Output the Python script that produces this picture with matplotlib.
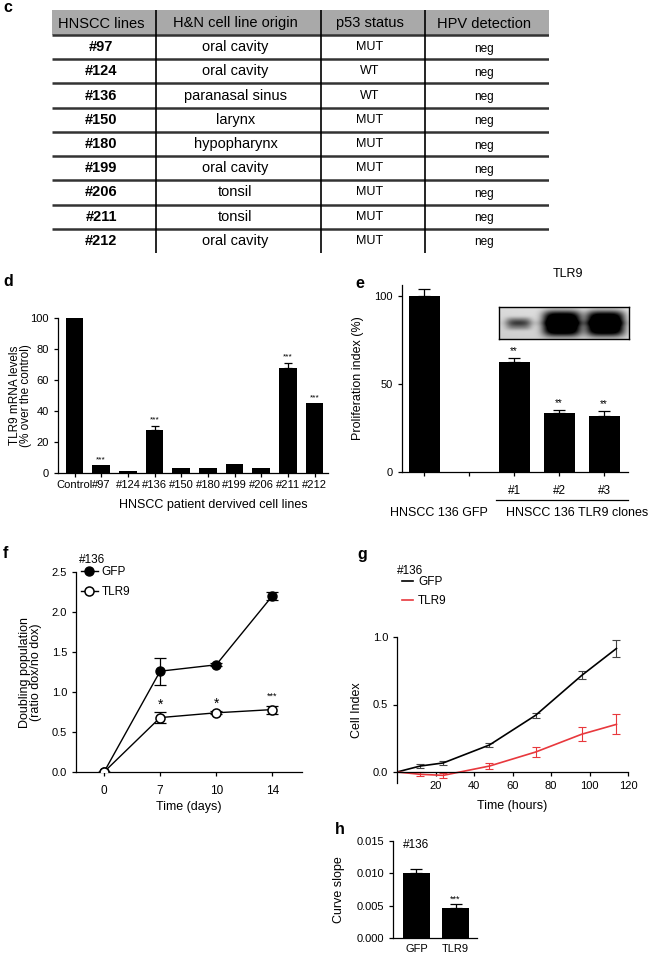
import numpy as np
import matplotlib.pyplot as plt
from matplotlib.patches import Rectangle
from matplotlib.transforms import blended_transform_factory

plt.rcParams['font.family'] = ['Liberation Sans', 'DejaVu Sans']
plt.rcParams['font.size'] = 8
plt.rcParams['axes.linewidth'] = 0.9
plt.rcParams['xtick.major.width'] = 0.9
plt.rcParams['ytick.major.width'] = 0.9
plt.rcParams['xtick.major.size'] = 3
plt.rcParams['ytick.major.size'] = 3
plt.rcParams['xtick.labelsize'] = 8
plt.rcParams['ytick.labelsize'] = 8

# ---- c: cell line table ----
table_header = ["HNSCC lines", "H&N cell line origin", "p53 status", "HPV detection"]
cell_lines = ["#97", "#124", "#136", "#150", "#180", "#199", "#206", "#211", "#212"]
origin = ["oral cavity", "oral cavity", "paranasal sinus", "larynx", "hypopharynx",
          "oral cavity", "tonsil", "tonsil", "oral cavity"]
p53_status = ["MUT", "WT", "WT", "MUT", "MUT", "MUT", "MUT", "MUT", "MUT"]
hpv = ["neg", "neg", "neg", "neg", "neg", "neg", "neg", "neg", "neg"]

# ---- d: TLR9 mRNA ----
d_labels = ["Control", "#97", "#124", "#136", "#150", "#180", "#199", "#206", "#211", "#212"]
d_values = [100, 5, 1, 28, 3, 3, 6, 3, 68, 45]
d_err = [0, 0, 0, 2.3, 0, 0, 0, 0, 3.2, 0]
d_stars = ["", "***", "", "***", "", "", "", "", "***", "***"]

# ---- e: proliferation index ----
e_labels = ["", "", "#1", "#2", "#3"]
e_values = [100, None, 62.5, 33.5, 31.5]
e_err = [3.5, None, 2.2, 1.7, 3.2]
e_stars = ["", "", "**", "**", "**"]
blot_intensity = [0.3, 1.0, 1.0]

# ---- f: doubling population ----
f_days = ["0", "7", "10", "14"]
f_gfp = [0, 1.26, 1.34, 2.2]
f_gfp_err = [0, 0.17, 0.02, 0.05]
f_tlr9 = [0, 0.68, 0.74, 0.78]
f_tlr9_err = [0, 0.07, 0.02, 0.05]
f_stars = ["", "*", "*", "***"]

# ---- g: cell index ----
g_hours = [0, 12, 24, 48, 72, 96, 114]
g_gfp = [0, 0.044, 0.067, 0.2, 0.42, 0.716, 0.915]
g_gfp_err = [0, 0.012, 0.012, 0.012, 0.02, 0.03, 0.065]
g_tlr9 = [0, -0.017, -0.025, 0.044, 0.148, 0.28, 0.353]
g_tlr9_err = [0, 0.015, 0.02, 0.025, 0.035, 0.053, 0.075]

# ---- h: curve slope ----
h_labels = ["GFP", "TLR9"]
h_values = [0.0101, 0.0047]
h_err = [0.0005, 0.0005]
h_stars = ["", "***"]

W, H = 658, 959
RED = '#e8383d'


def px_axes(fig, x0, y0, x1, y1):
    # axes from pixel box (top-left origin)
    return fig.add_axes([x0 / W, 1 - y1 / H, (x1 - x0) / W, (y1 - y0) / H])


def prism_style(ax):
    ax.spines['top'].set_visible(False)
    ax.spines['right'].set_visible(False)
    ax.tick_params(direction='out', length=3)


fig = plt.figure(figsize=(W / 100, H / 100), dpi=100)

# panel letters
for letter, (lx, ly) in {"c": (3, 7), "d": (3, 282), "e": (355, 283),
                         "f": (3, 553), "g": (357, 555), "h": (335, 830)}.items():
    fig.text(lx / W, 1 - ly / H, letter, fontsize=11.5, fontweight='bold', va='center', ha='left')

# ---------------- c: table ----------------
axt = px_axes(fig, 52, 10, 549, 253)
tw, th = 497, 243
axt.set_xlim(0, tw)
axt.set_ylim(th, 0)
axt.axis('off')
col_edges = [0, 104, 269, 373, 497]
header_h = 25
row_h = (th - header_h) / len(cell_lines)
axt.add_patch(Rectangle((0, 0), tw, header_h, color='#a9a9a9', lw=0))
for k in range(len(cell_lines)):
    yy = header_h + k * row_h
    axt.plot([0, tw], [yy, yy], color='#333333', lw=1.8, solid_capstyle='butt')
for xx in col_edges[1:-1]:
    axt.plot([xx, xx], [0, th], color='black', lw=1.2)
centers = [(col_edges[i] + col_edges[i + 1]) / 2 - 3 for i in range(4)]
for i, name in enumerate(table_header):
    axt.text(centers[i], header_h / 2 + 1, name, ha='center', va='center', fontsize=10.5)
for r in range(len(cell_lines)):
    yc = header_h + (r + 0.5) * row_h
    axt.text(centers[0], yc, cell_lines[r], ha='center', va='center', fontsize=10.5, fontweight='bold')
    axt.text(centers[1], yc, origin[r], ha='center', va='center', fontsize=10.5)
    axt.text(centers[2], yc, p53_status[r], ha='center', va='center', fontsize=9)
    axt.text(centers[3], yc + 1.5, hpv[r], ha='center', va='center', fontsize=8.5)

# ---------------- d ----------------
axd = px_axes(fig, 58, 318, 328, 473)
prism_style(axd)
xd = np.arange(len(d_labels))
axd.bar(xd, d_values, width=0.66, color='black')
for i in range(len(d_labels)):
    if d_err[i] > 0:
        axd.errorbar(xd[i], d_values[i], yerr=[[0], [d_err[i]]], fmt='none',
                     ecolor='black', elinewidth=0.9, capsize=3, capthick=0.9)
    if d_stars[i]:
        axd.text(xd[i], d_values[i] + d_err[i] + 1.5, d_stars[i], ha='center', va='bottom', fontsize=6)
axd.set_xlim(-0.62, 9.5)
axd.set_ylim(0, 100)
axd.set_yticks([0, 20, 40, 60, 80, 100])
axd.set_xticks(xd)
axd.set_xticklabels(d_labels, fontsize=8)
axd.tick_params(axis='x', pad=2)
axd.set_ylabel("TLR9 mRNA levels\n(% over the control)", fontsize=8.5, linespacing=0.9)
axd.yaxis.set_label_coords(-0.095, 0.5)
axd.set_xlabel("HNSCC patient dervived cell lines", fontsize=9)
axd.xaxis.set_label_coords(0.574, -0.17)

# ---------------- e ----------------
axe = px_axes(fig, 402, 285, 628, 472)
prism_style(axe)
xe = np.arange(len(e_labels))
keep = [i for i, v in enumerate(e_values) if v is not None]
axe.bar([xe[i] for i in keep], [e_values[i] for i in keep], width=0.69, color='black')
for i in keep:
    axe.errorbar(xe[i], e_values[i], yerr=[[0], [e_err[i]]], fmt='none',
                 ecolor='black', elinewidth=0.9, capsize=4, capthick=0.9)
    if e_stars[i]:
        axe.text(xe[i], e_values[i] + e_err[i] + 1, e_stars[i], ha='center', va='bottom', fontsize=7)
axe.set_xlim(-0.49, 4.53)
axe.set_ylim(0, 106)
axe.set_yticks([0, 50, 100])
axe.set_xticks(xe)
axe.set_xticklabels(e_labels, fontsize=8.5)
axe.tick_params(axis='x', pad=6)
axe.set_ylabel("Proliferation index (%)", fontsize=9)
axe.yaxis.set_label_coords(-0.17, 0.5)
tr = blended_transform_factory(axe.transData, axe.transAxes)
axe.plot([1.6, 4.53], [-0.15, -0.15], transform=tr, color='black', lw=0.9, clip_on=False)
axe.text(0.33, -0.22, "HNSCC 136 GFP", transform=tr, ha='center', va='center', fontsize=9)
axe.text(3.4, -0.22, "HNSCC 136 TLR9 clones", transform=tr, ha='center', va='center', fontsize=9)
axe.text(3.2, 1.06, "TLR9", transform=tr, ha='center', va='center', fontsize=9)

# western blot inset
axb = px_axes(fig, 499, 307, 629, 339)
bw, bh = 130, 32
bx, by = np.meshgrid(np.arange(bw) + 0.5, np.arange(bh) + 0.5)
blot = 0.9 - 0.06 * (by / bh) - 0.04 * (1 - bx / bw)
lane_w = bw / len(blot_intensity)
for i, inten in enumerate(blot_intensity):
    cx = (i + 0.5) * lane_w - 2
    hw = 10 + 9 * inten
    hh = 3.5 + 9 * inten
    shape = np.exp(-((bx - cx) / hw) ** 4 - ((by - bh / 2 - 0.5) / hh) ** 4)
    blot = blot - inten * 1.2 * shape - 0.25 * np.exp(-((bx - cx) / hw) ** 2 - ((by - bh / 2) / 3) ** 2)
axb.imshow(np.clip(blot, 0, 1), cmap='gray', vmin=0, vmax=1, aspect='auto',
           interpolation='bilinear')
axb.set_xticks([])
axb.set_yticks([])
for s in axb.spines.values():
    s.set_linewidth(1.0)

# ---------------- f ----------------
axf = px_axes(fig, 76, 572, 302, 772)
prism_style(axf)
xf = np.arange(len(f_days))
axf.errorbar(xf, f_gfp, yerr=f_gfp_err, fmt='none', ecolor='black', elinewidth=0.9, capsize=4, capthick=0.9)
axf.errorbar(xf, f_tlr9, yerr=f_tlr9_err, fmt='none', ecolor='black', elinewidth=0.9, capsize=4, capthick=0.9)
axf.plot(xf, f_gfp, '-o', color='black', lw=1.0, ms=6.5, label='GFP', zorder=3)
axf.plot(xf, f_tlr9, '-o', color='black', lw=1.0, ms=6.5, mfc='white', mew=1.1, label='TLR9', zorder=4)
for i, s in enumerate(f_stars):
    if s:
        big = s == "*"
        axf.text(xf[i], f_tlr9[i] + f_tlr9_err[i] + (0.0 if big else 0.06), s, ha='center',
                 va='bottom', fontsize=10 if big else 6.5)
axf.set_xlim(-0.5, 3.53)
axf.set_ylim(0, 2.5)
axf.set_yticks([0, 0.5, 1.0, 1.5, 2.0, 2.5])
axf.set_yticklabels(["0.0", "0.5", "1.0", "1.5", "2.0", "2.5"])
axf.set_xticks(xf)
axf.set_xticklabels(f_days, fontsize=8.5)
axf.tick_params(axis='x', pad=6)
axf.set_xlabel("Time (days)", fontsize=9, labelpad=3)
axf.set_ylabel("Doubling population\n(ratio dox/no dox)", fontsize=9, linespacing=0.95)
axf.yaxis.set_label_coords(-0.15, 0.5)
axf.text(0.015, 1.06, "#136", transform=axf.transAxes, fontsize=8.5, va='center')
axf.legend(loc='upper left', bbox_to_anchor=(0.02, 1.03), frameon=False, fontsize=8.5,
           handlelength=1.5, handletextpad=0.3, labelspacing=0.65, borderaxespad=0, borderpad=0)

# ---------------- g ----------------
axg = px_axes(fig, 397, 637, 628, 782.8)
prism_style(axg)
axg.spines['bottom'].set_position(('data', 0))
axg.errorbar(g_hours[1:], g_gfp[1:], yerr=g_gfp_err[1:], fmt='none', ecolor='#444444',
             elinewidth=0.8, capsize=3, capthick=0.8)
axg.errorbar(g_hours[1:], g_tlr9[1:], yerr=g_tlr9_err[1:], fmt='none', ecolor=RED,
             elinewidth=0.8, capsize=3, capthick=0.8)
axg.plot(g_hours, g_gfp, color='black', lw=1.2, label='GFP')
axg.plot(g_hours, g_tlr9, color=RED, lw=1.2, label='TLR9')
axg.set_xlim(0, 120)
axg.set_ylim(-0.08, 1.0)
axg.set_xticks([20, 40, 60, 80, 100, 120])
axg.set_yticks([0, 0.5, 1.0])
axg.set_yticklabels(["0.0", "0.5", "1.0"])
axg.set_xlabel("Time (hours)", fontsize=9)
axg.xaxis.set_label_coords(0.5, -0.115)
axg.set_ylabel("Cell Index", fontsize=9)
axg.yaxis.set_label_coords(-0.147, 0.5)
axg.text(0.0, 1.45, "#136", transform=axg.transAxes, fontsize=8.5, va='center')
axg.legend(loc='upper left', bbox_to_anchor=(0.02, 1.42), frameon=False, fontsize=8.5,
           handlelength=1.0, handletextpad=0.4, labelspacing=0.6, borderaxespad=0, borderpad=0)

# ---------------- h ----------------
axh = px_axes(fig, 393, 841, 477, 938)
prism_style(axh)
xh = np.arange(len(h_labels))
axh.bar(xh, h_values, width=0.69, color='black')
axh.errorbar(xh, h_values, yerr=[[0, 0], h_err], fmt='none', ecolor='black',
             elinewidth=0.9, capsize=4, capthick=0.9)
for i, s in enumerate(h_stars):
    if s:
        axh.text(xh[i], h_values[i] + h_err[i] + 0.0001, s, ha='center', va='bottom', fontsize=6.5)
axh.set_xlim(-0.6, 1.55)
axh.set_ylim(0, 0.015)
axh.set_yticks([0, 0.005, 0.010, 0.015])
axh.set_yticklabels(["0.000", "0.005", "0.010", "0.015"])
axh.set_xticks(xh)
axh.set_xticklabels(h_labels, fontsize=8)
axh.tick_params(axis='x', length=0, pad=4)
axh.set_ylabel("Curve slope", fontsize=9)
axh.yaxis.set_label_coords(-0.57, 0.5)
axh.text(0.12, 0.96, "#136", transform=axh.transAxes, fontsize=8.5, va='center')

fig.savefig("out.png", dpi=100)
